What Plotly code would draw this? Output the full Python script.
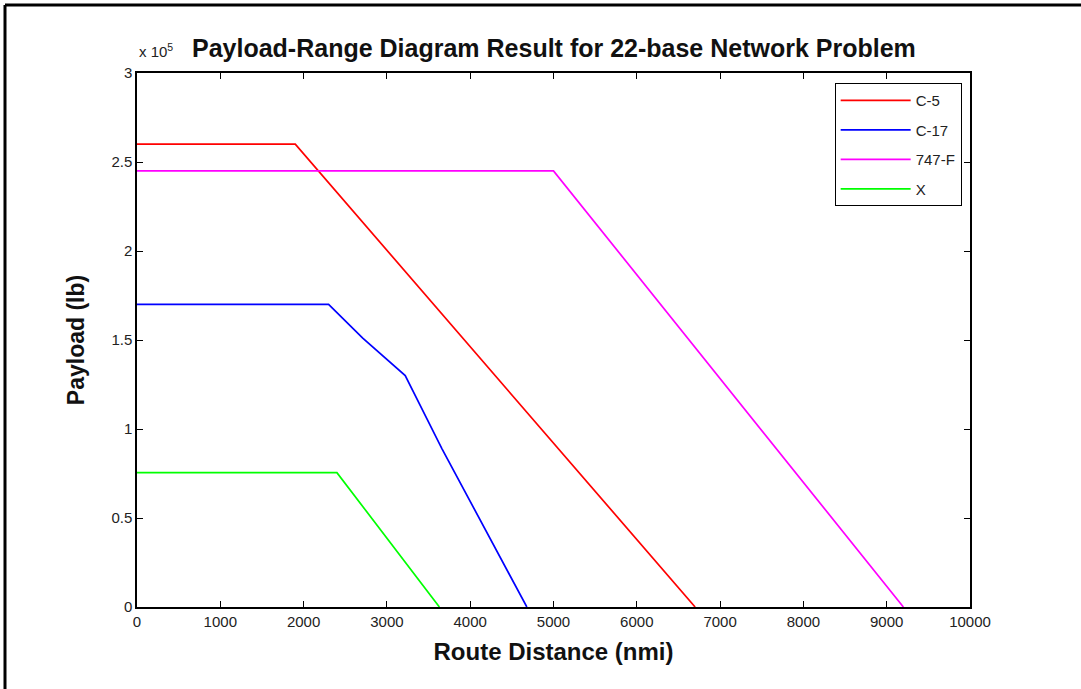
import plotly.graph_objects as go

# Data (payload in lb, distance in nmi)
c5_x = [0, 1900, 6700]
c5_y = [260000, 260000, 0]
c17_x = [0, 2300, 2710, 3120, 3220, 3660, 4680]
c17_y = [170000, 170000, 151000, 134000, 130000, 89000, 0]
b747_x = [0, 5000, 9200]
b747_y = [245000, 245000, 0]
x_x = [0, 2400, 3630]
x_y = [75500, 75500, 0]

series = [
    ("C-5", c5_x, c5_y, "#ff0000"),
    ("C-17", c17_x, c17_y, "#0000ff"),
    ("747-F", b747_x, b747_y, "#ff00ff"),
    ("X", x_x, x_y, "#00ff00"),
]

y_tickvals = [0, 50000, 100000, 150000, 200000, 250000, 300000]
y_ticktext = ["0", "0.5", "1", "1.5", "2", "2.5", "3"]
x_tickvals = list(range(0, 10001, 1000))
x_ticktext = [str(v) for v in x_tickvals]

FONT = "Liberation Sans, Arial"

fig = go.Figure()
for i, (name, xs, ys, col) in enumerate(series):
    fig.add_trace(go.Scatter(x=xs, y=ys, mode="lines", name=name, legendgroup=f"g{i}",
                             line=dict(color=col, width=1.7)))

W, H = 1081, 689
L, R, T, B = 137, 970, 73, 607
pw, ph = R - L, B - T

axis_common = dict(showgrid=False, zeroline=False, showline=True, linecolor="black",
                   linewidth=1.5, mirror="ticks", ticks="inside", ticklen=6,
                   tickcolor="black", tickwidth=1,
                   tickfont=dict(family=FONT, size=15, color="#222"))

fig.update_layout(
    width=W, height=H,
    margin=dict(l=L, r=W - R, t=T, b=H - B, autoexpand=False),
    paper_bgcolor="white", plot_bgcolor="white",
    showlegend=True,
    legend=dict(x=0.990, xanchor="right", y=0.981, yanchor="top",
                bordercolor="black", borderwidth=1, bgcolor="white",
                font=dict(family=FONT, size=15, color="#222"),
                tracegroupgap=7, itemwidth=70, entrywidth=72, traceorder="grouped"),
    xaxis=dict(range=[0, 10000], tickvals=x_tickvals, ticktext=x_ticktext,
               title=dict(text="<b>Route Distance (nmi)</b>", standoff=14,
                          font=dict(family=FONT, size=24, color="#111")),
               **axis_common),
    yaxis=dict(range=[0, 300000], tickvals=y_tickvals, ticktext=y_ticktext,
               title=dict(text="<b>Payload (lb)</b>", standoff=20,
                          font=dict(family=FONT, size=23, color="#111")),
               **axis_common),
)

# Title
fig.add_annotation(xref="paper", yref="paper", x=(554 - L) / pw, y=(B - 48) / ph,
                   xanchor="center", yanchor="middle", showarrow=False,
                   text="<b>Payload-Range Diagram Result for 22-base Network Problem</b>",
                   font=dict(family=FONT, size=25, color="#111"))
# Exponent label
fig.add_annotation(xref="paper", yref="paper", x=0.0, y=(B - 50) / ph, xanchor="left",
                   yanchor="middle", showarrow=False,
                   text="x 10<sup>5</sup>",
                   font=dict(family=FONT, size=15, color="#222"))

# Outer frame (top and left edges)
fx0 = (5 - L) / pw
fy_top = (B - 5) / ph
fy_bot = (B - H - 5) / ph
fig.add_shape(type="line", xref="paper", yref="paper", x0=fx0, x1=(W + 5 - L) / pw,
              y0=fy_top, y1=fy_top, line=dict(color="black", width=3))
fig.add_shape(type="line", xref="paper", yref="paper", x0=fx0, x1=fx0,
              y0=fy_top, y1=fy_bot, line=dict(color="black", width=3))

fig.write_html("out.html", config={"displayModeBar": False},
               post_script="document.body.style.margin='0';")
